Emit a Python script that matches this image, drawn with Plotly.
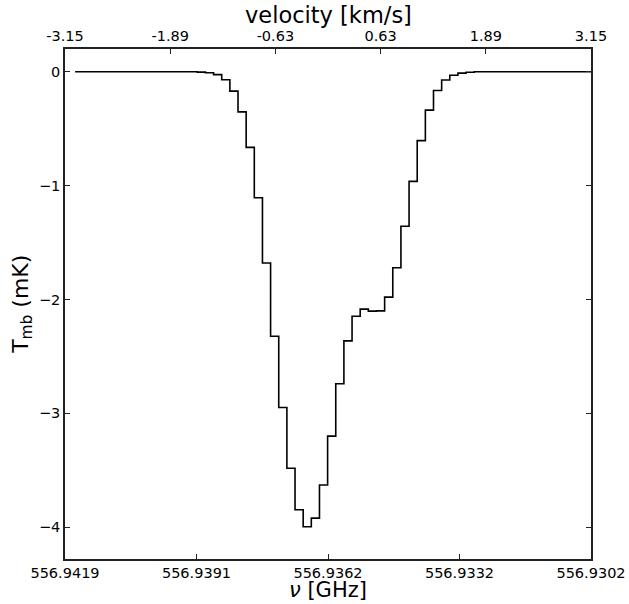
import numpy as np
import plotly.graph_objects as go

# Spectral channel grid (velocity, km/s): first channel left edge and channel width
v_first_edge = -3.029
dv = 0.09756

# Channel brightness temperatures T_mb (mK), left to right
tmb = [
    0.0, 0.0, 0.0, 0.0, 0.0, 0.0, 0.0, 0.0, 0.0, 0.0,
    0.0, 0.0, 0.0, 0.0, 0.0, -0.003, -0.008, -0.025, -0.070, -0.170,
    -0.352, -0.664, -1.107, -1.680, -2.323, -2.949, -3.483, -3.848, -3.997, -3.921,
    -3.630, -3.201, -2.740, -2.364, -2.147, -2.085, -2.103, -2.100, -1.980, -1.721,
    -1.357, -0.963, -0.605, -0.337, -0.165, -0.072, -0.030, -0.012, -0.004, 0.0,
    0.0, 0.0, 0.0, 0.0, 0.0, 0.0, 0.0, 0.0, 0.0, 0.0,
    0.0, 0.0, 0.0, 0.0,
]

# Axis ticks
vel_ticks = [-3.15, -1.89, -0.63, 0.63, 1.89, 3.15]
vel_ticktext = ["-3.15", "-1.89", "-0.63", "0.63", "1.89", "3.15"]
freq_tickpos = [-3.15, -1.575, 0.0, 1.575, 3.15]
freq_ticktext = ["556.9419", "556.9391", "556.9362", "556.9332", "556.9302"]
y_ticks = [0, -1, -2, -3, -4]

edges = v_first_edge + dv * np.arange(len(tmb) + 1)
xs = list(edges)
ys = list(tmb) + [tmb[-1]]

FONT = "DejaVu Sans"
AX = "#222222"

fig = go.Figure()
fig.add_trace(go.Scatter(x=xs, y=ys, mode="lines", line=dict(color="black", width=1.6, shape="hv"),
                         showlegend=False, hoverinfo="skip"))
fig.add_trace(go.Scatter(x=[-3.15, 3.15], y=[0, 0], xaxis="x2", mode="lines",
                         line=dict(width=0), opacity=0,
                         showlegend=False, hoverinfo="skip"))

common = dict(showgrid=False, zeroline=False, showline=True, linecolor=AX, linewidth=1.5,
              ticks="inside", ticklen=5, tickwidth=1, tickcolor=AX, automargin=False,
              ticklabeloverflow="allow",
              tickfont=dict(family=FONT, size=14.5, color="black"))

fig.update_layout(
    width=629, height=604,
    margin=dict(l=65, r=38, t=49, b=45),
    paper_bgcolor="white", plot_bgcolor="white",
    xaxis=dict(range=[-3.15, 3.15], tickmode="array", tickvals=freq_tickpos, ticktext=freq_ticktext,
               mirror=False, **common),
    xaxis2=dict(range=[-3.15, 3.15], overlaying="x", side="top", tickmode="array",
                tickvals=vel_ticks, ticktext=vel_ticktext, **common),
    yaxis=dict(range=[-4.28, 0.2], tickmode="array", tickvals=y_ticks, mirror="ticks", **common),
    annotations=[
        dict(text="velocity [km/s]", xref="paper", yref="paper", x=0.5, y=1.066,
             xanchor="center", yanchor="middle", showarrow=False,
             font=dict(family=FONT, size=22.5, color="black")),
        dict(text="<i>ν</i> [GHz]", xref="paper", yref="paper", x=0.5, y=-0.089,
             xanchor="center", yanchor="bottom", showarrow=False,
             font=dict(family=FONT, size=21, color="black")),
        dict(text="T<sub>mb</sub> (mK)", xref="paper", yref="paper", x=-0.082, y=0.5,
             xanchor="center", yanchor="middle", showarrow=False, textangle=-90,
             font=dict(family=FONT, size=22, color="black")),
    ],
)

fig.write_html("out.html")
